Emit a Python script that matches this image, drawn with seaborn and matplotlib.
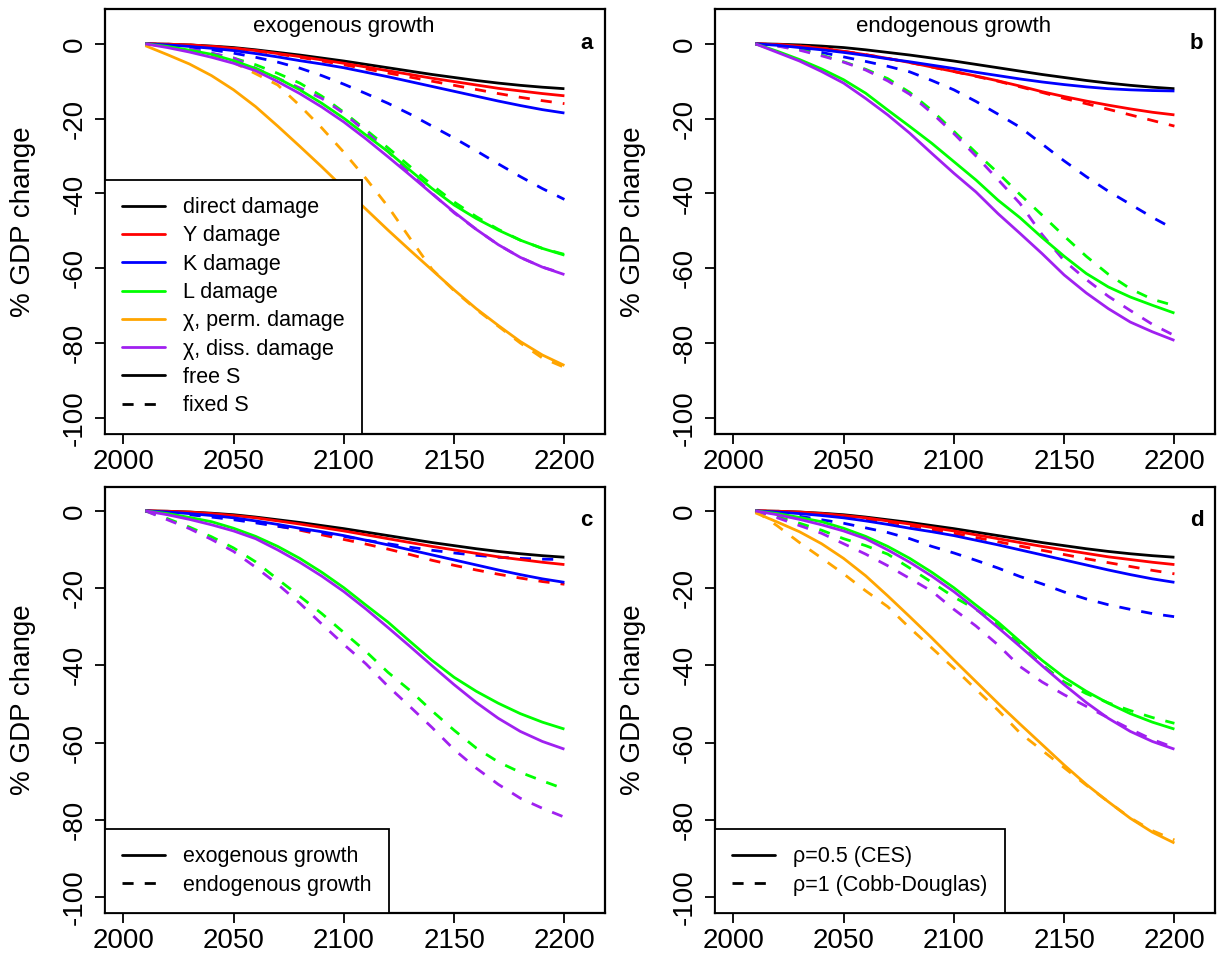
import matplotlib
matplotlib.use("Agg")
import numpy as np
import pandas as pd
import matplotlib.pyplot as plt
import seaborn as sns
from matplotlib.lines import Line2D

sns.set_style("ticks")
plt.rcParams['font.family'] = ['Liberation Sans', 'DejaVu Sans']
plt.rcParams['axes.unicode_minus'] = False
plt.rcParams['text.color'] = 'black'
plt.rcParams['axes.labelcolor'] = 'black'
plt.rcParams['xtick.color'] = 'black'
plt.rcParams['ytick.color'] = 'black'

# ---------------- data ----------------
years = [2010, 2020, 2030, 2040, 2050, 2060, 2070, 2080, 2090, 2100,
         2110, 2120, 2130, 2140, 2150, 2160, 2170, 2180, 2190, 2200]

direct = [0, -0.1, -0.3, -0.6, -1.0, -1.6, -2.3, -3.0, -3.8, -4.6,
          -5.5, -6.4, -7.3, -8.2, -9.0, -9.8, -10.5, -11.1, -11.6, -12.0]

# exogenous growth, free S (also rho=0.5 CES)
exo_Y = [0, -0.1, -0.3, -0.7, -1.2, -1.8, -2.6, -3.4, -4.3, -5.2,
         -6.2, -7.2, -8.2, -9.2, -10.1, -11.0, -11.9, -12.6, -13.3, -13.9]
exo_K = [0, -0.3, -0.7, -1.2, -1.8, -2.6, -3.5, -4.5, -5.4, -6.4,
         -7.6, -8.8, -10.1, -11.4, -12.7, -14.0, -15.3, -16.5, -17.6, -18.5]
exo_L = [0, -0.7, -1.7, -2.8, -4.5, -6.6, -9.2, -12.3, -15.9, -19.9,
         -24.4, -28.8, -33.8, -38.7, -43.1, -46.7, -49.8, -52.5, -54.7, -56.5]
exo_chiP = [-0.5, -2.9, -5.4, -8.5, -12.3, -16.8, -22.0, -27.4, -32.9, -38.6,
            -44.2, -49.8, -55.2, -60.5, -65.8, -70.8, -75.3, -79.6, -83.2, -86.0]
exo_chiD = [0, -1.0, -2.2, -3.6, -5.2, -7.2, -10.1, -13.3, -16.9, -20.9,
            -25.4, -30.2, -35.1, -40.1, -45.0, -49.6, -53.7, -57.1, -59.7, -61.7]

# exogenous growth, fixed S
exo_fix_Y = [0, -0.1, -0.3, -0.7, -1.2, -1.9, -2.7, -3.6, -4.6, -5.6,
             -6.7, -7.8, -8.9, -10.0, -11.1, -12.2, -13.3, -14.3, -15.2, -16.0]
exo_fix_K = [0, -0.3, -0.9, -1.6, -2.5, -3.6, -4.9, -6.5, -8.5, -10.8,
             -13.3, -15.9, -18.8, -22.0, -25.2, -28.6, -32.1, -35.5, -38.7, -41.6]
exo_fix_L = [0, -0.6, -1.5, -2.6, -3.8, -5.6, -7.9, -10.5, -14.0, -18.3,
             -23.0, -27.8, -32.8, -37.8, -42.3, -46.2, -49.6, -52.5, -54.7, -56.3]
exo_fix_chiP = [0, -0.5, -1.5, -3.0, -5.0, -8.0, -11.0, -16.5, -22.5, -29.0,
                -36.0, -43.5, -52.0, -60.3, -66.0, -71.0, -75.5, -80.0, -84.0, -86.5]
exo_fix_chiD = [0, -0.5, -1.4, -2.5, -3.8, -6.5, -9.2, -11.8, -14.6, -18.6,
                -23.5, -28.8, -34.6, -40.0, -45.2, -49.6, -53.7, -57.1, -59.7, -61.5]

# endogenous growth, free S
endo_Y = [0, -0.2, -0.6, -1.2, -2.0, -2.9, -3.9, -5.0, -6.2, -7.4,
          -8.6, -9.9, -11.3, -12.8, -14.1, -15.3, -16.4, -17.4, -18.3, -19.0]
endo_K = [0, -0.4, -1.0, -1.6, -2.3, -3.1, -4.0, -4.8, -5.7, -6.6,
          -7.6, -8.5, -9.4, -10.2, -10.9, -11.5, -12.0, -12.3, -12.5, -12.6]
endo_L = [0, -2.0, -4.2, -6.7, -9.6, -13.2, -17.7, -22.1, -26.6, -31.5,
          -36.4, -41.8, -46.5, -51.8, -56.8, -61.4, -65.0, -67.7, -69.9, -72.0]
endo_chiD = [0, -2.3, -4.6, -7.4, -10.5, -14.6, -19.0, -23.9, -29.3, -34.6,
             -39.6, -45.4, -50.7, -56.1, -61.8, -66.6, -70.8, -74.4, -77.0, -79.3]

# endogenous growth, fixed S
endo_fix_Y = [0, -0.2, -0.6, -1.2, -2.0, -2.9, -3.9, -5.0, -6.2, -7.4,
              -8.7, -10.0, -11.5, -13.0, -14.6, -16.0, -17.5, -19.0, -20.5, -22.0]
endo_fix_K = [0, -0.5, -1.3, -2.3, -3.5, -4.7, -6.0, -7.5, -9.8, -12.3,
              -15.4, -18.8, -22.3, -26.8, -31.3, -35.5, -39.4, -42.9, -46.4, -49.6]
endo_fix_L = [0, -0.5, -1.5, -3.0, -4.8, -6.8, -9.3, -13.0, -17.8, -23.4,
              -29.1, -34.5, -40.3, -45.8, -51.4, -56.8, -61.6, -65.5, -68.3, -70.0]
endo_fix_chiD = [0, -0.6, -1.7, -3.2, -4.9, -7.0, -9.9, -13.5, -18.5, -24.0,
                 -30.0, -36.3, -42.7, -51.0, -58.0, -63.0, -67.5, -71.3, -75.0, -78.0]

# rho=1 (Cobb-Douglas)
cd_Y = [0, -0.1, -0.4, -0.8, -1.4, -2.1, -2.9, -3.8, -4.8, -5.8,
        -6.9, -8.0, -9.1, -10.2, -11.3, -12.4, -13.4, -14.4, -15.4, -16.3]
cd_K = [0, -0.6, -1.4, -2.3, -3.2, -4.4, -5.6, -7.2, -9.2, -10.9,
        -12.8, -14.8, -17.0, -18.9, -21.0, -22.8, -24.3, -25.5, -26.6, -27.4]
cd_L = [0, -1.5, -3.2, -5.0, -7.2, -9.0, -11.2, -14.8, -18.5, -22.3,
        -25.5, -29.4, -34.7, -39.8, -44.3, -47.3, -49.7, -51.7, -53.5, -55.0]
cd_chiP = [0, -3.9, -8.2, -12.2, -16.3, -20.7, -24.8, -30.3, -35.5, -40.7,
           -46.2, -51.6, -57.5, -62.0, -66.5, -71.0, -75.3, -79.5, -82.8, -85.2]
cd_chiD = [0, -1.8, -3.8, -5.8, -8.5, -11.2, -14.2, -17.5, -20.8, -25.5,
           -29.8, -34.7, -40.3, -44.3, -47.6, -50.6, -53.6, -56.5, -59.2, -61.3]

x_ticks = [2000, 2050, 2100, 2150, 2200]
y_ticks = [0, -20, -40, -60, -80, -100]

damage_labels = ["direct damage", "Y damage", "K damage", "L damage",
                 "\u03c7, perm. damage", "\u03c7, diss. damage"]
C_BLACK, C_RED, C_BLUE, C_GREEN, C_ORANGE, C_PURPLE = (
    "#000000", "#FF0000", "#0000FF", "#00FF00", "#FFA500", "#A020F0")
damage_colors = [C_BLACK, C_RED, C_BLUE, C_GREEN, C_ORANGE, C_PURPLE]

DASH = (0, (4, 4))
LW = 2.0

# ---------------- figure ----------------
fig = plt.figure(figsize=(12.21, 9.6), dpi=100)
rects = {
    'a': [0.0858, 0.5484, 0.4097, 0.4418],
    'b': [0.5854, 0.5484, 0.4097, 0.4418],
    'c': [0.0858, 0.0491, 0.4097, 0.4432],
    'd': [0.5854, 0.0491, 0.4097, 0.4432],
}


def line(ax, vals, color, dashed=False):
    sns.lineplot(x=years, y=vals, ax=ax, color=color, linewidth=LW,
                 linestyle=DASH if dashed else '-', legend=False,
                 solid_capstyle='butt', dash_capstyle='butt')


def style(ax, ytop):
    ax.set_xlim(2000 - 8.4, 2210 + 8.4)
    pad = (ytop + 100) * 0.04
    ax.set_ylim(-100 - pad, ytop + pad)
    ax.set_xticks(x_ticks)
    ax.set_xticklabels([str(t) for t in x_ticks])
    ax.set_yticks(y_ticks)
    ax.set_yticklabels([str(t) for t in y_ticks], rotation=90, va='center')
    ax.tick_params(axis='both', labelsize=20, length=7, width=1.3,
                   direction='out', color='black', labelcolor='black')
    ax.tick_params(axis='x', pad=4)
    ax.tick_params(axis='y', pad=5)
    for s in ax.spines.values():
        s.set_visible(True)
        s.set_linewidth(1.6)
        s.set_color('black')
    ax.set_xlabel('')
    ax.set_ylabel('% GDP change', fontsize=20, va='center', color='black')
    ax.yaxis.set_label_coords(-0.1625, 0.5)
    ax.grid(False)


def legend(ax, handles, labels, fs):
    leg = ax.legend(handles, labels, loc='lower left', bbox_to_anchor=(0, 0),
                    borderaxespad=0, frameon=True, fancybox=False,
                    edgecolor='black', framealpha=1, fontsize=fs,
                    handlelength=2.0, handletextpad=0.85, labelspacing=0.34,
                    borderpad=0.8, labelcolor='black')
    leg.get_frame().set_linewidth(1.3)


# ---- panel a ----
ax = fig.add_axes(rects['a'])
line(ax, direct, C_BLACK)
for v, c in [(exo_fix_Y, C_RED), (exo_fix_K, C_BLUE), (exo_fix_L, C_GREEN),
             (exo_fix_chiP, C_ORANGE), (exo_fix_chiD, C_PURPLE)]:
    line(ax, v, c, dashed=True)
for v, c in [(exo_Y, C_RED), (exo_K, C_BLUE), (exo_L, C_GREEN),
             (exo_chiP, C_ORANGE), (exo_chiD, C_PURPLE)]:
    line(ax, v, c)
style(ax, 5)
ax.text(2100, 4.6, "exogenous growth", ha='center', va='center', fontsize=16)
ax.text(2210, 0.2, "a", ha='center', va='center', fontsize=16, fontweight='bold')
h = [Line2D([], [], color=c, lw=LW) for c in damage_colors]
h += [Line2D([], [], color='black', lw=LW),
      Line2D([], [], color='black', lw=LW, linestyle=DASH)]
legend(ax, h, damage_labels + ["free S", "fixed S"], 15.5)

# ---- panel b ----
ax = fig.add_axes(rects['b'])
line(ax, direct, C_BLACK)
for v, c in [(endo_fix_Y, C_RED), (endo_fix_K, C_BLUE), (endo_fix_L, C_GREEN),
             (endo_fix_chiD, C_PURPLE)]:
    line(ax, v, c, dashed=True)
for v, c in [(endo_Y, C_RED), (endo_K, C_BLUE), (endo_L, C_GREEN),
             (endo_chiD, C_PURPLE)]:
    line(ax, v, c)
style(ax, 5)
ax.text(2100, 4.6, "endogenous growth", ha='center', va='center', fontsize=16)
ax.text(2210, 0.2, "b", ha='center', va='center', fontsize=16, fontweight='bold')

# ---- panel c ----
ax = fig.add_axes(rects['c'])
line(ax, direct, C_BLACK)
for v, c in [(endo_Y, C_RED), (endo_K, C_BLUE), (endo_L, C_GREEN),
             (endo_chiD, C_PURPLE)]:
    line(ax, v, c, dashed=True)
for v, c in [(exo_Y, C_RED), (exo_K, C_BLUE), (exo_L, C_GREEN),
             (exo_chiD, C_PURPLE)]:
    line(ax, v, c)
style(ax, 2)
ax.text(2210, -2.6, "c", ha='center', va='center', fontsize=16, fontweight='bold')
h = [Line2D([], [], color='black', lw=LW),
     Line2D([], [], color='black', lw=LW, linestyle=DASH)]
legend(ax, h, ["exogenous growth", "endogenous growth"], 15.5)

# ---- panel d ----
ax = fig.add_axes(rects['d'])
line(ax, direct, C_BLACK)
for v, c in [(cd_Y, C_RED), (cd_K, C_BLUE), (cd_L, C_GREEN),
             (cd_chiP, C_ORANGE), (cd_chiD, C_PURPLE)]:
    line(ax, v, c, dashed=True)
for v, c in [(exo_Y, C_RED), (exo_K, C_BLUE), (exo_L, C_GREEN),
             (exo_chiP, C_ORANGE), (exo_chiD, C_PURPLE)]:
    line(ax, v, c)
style(ax, 2)
ax.text(2210, -2.6, "d", ha='center', va='center', fontsize=16, fontweight='bold')
legend(ax, h, ["\u03c1=0.5 (CES)", "\u03c1=1 (Cobb-Douglas)"], 15.5)

fig.savefig("out.png", dpi=100, facecolor='white')
